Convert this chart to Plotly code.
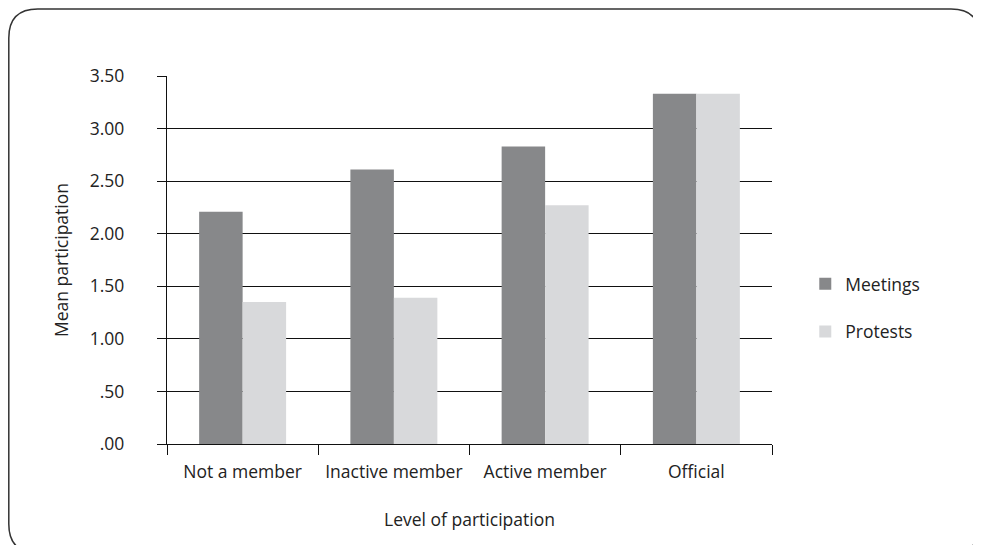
import plotly.graph_objects as go

categories = ["Not a member", "Inactive member", "Active member", "Official"]
meetings = [2.21, 2.61, 2.83, 3.33]
protests = [1.35, 1.39, 2.27, 3.33]
y_tickvals = [0, 0.5, 1.0, 1.5, 2.0, 2.5, 3.0, 3.5]
y_ticktext = [".00", ".50", "1.00", "1.50", "2.00", "2.50", "3.00", "3.50"]

# page body has an 8px margin; size the figure so the page fits the window
W, H = 973, 537
L, R, T, B = 159, 209, 68, 101
pw, ph = W - L - R, H - T - B

FONT = "Open Sans"
FS = 17.5
TXT = "#222222"

fig = go.Figure()
fig.add_trace(go.Bar(name="Meetings", x=categories, y=meetings, legendgroup="m",
                     marker=dict(color="#87888a", line=dict(width=0))))
fig.add_trace(go.Bar(name="Protests", x=categories, y=protests, legendgroup="p",
                     marker=dict(color="#d8d9db", line=dict(width=0))))

def px2paper(x, y):
    return (x - L) / pw, 1 - (y - T) / ph

x0, y1 = px2paper(0.8, 1)
x1, y0 = px2paper(972, 545)
rx, ry = 29 / pw, 29 / ph
path = (f"M {x0+rx},{y1} L {x1-rx},{y1} Q {x1},{y1} {x1},{y1-ry} "
        f"L {x1},{y0+ry} Q {x1},{y0} {x1-rx},{y0} L {x0+rx},{y0} "
        f"Q {x0},{y0} {x0},{y0+ry} L {x0},{y1-ry} Q {x0},{y1} {x0+rx},{y1} Z")

fig.update_layout(
    width=W, height=H,
    margin=dict(l=L, r=R, t=T, b=B, pad=0, autoexpand=False),
    paper_bgcolor="white", plot_bgcolor="white",
    barmode="group", bargap=0.425, bargroupgap=0,
    font=dict(family=FONT, size=FS, color=TXT),
    showlegend=True,
    legend=dict(x=1.055, y=0.37, xanchor="left", yanchor="middle",
                font=dict(family=FONT, size=FS, color=TXT),
                tracegroupgap=22, traceorder="grouped",
                bgcolor="rgba(0,0,0,0)"),
    xaxis=dict(
        automargin=False, tickangle=0,
        showline=True, linecolor="#111111", linewidth=1.3,
        ticks="outside", ticklen=10, tickcolor="#111111", tickwidth=1.3,
        tickson="boundaries", showgrid=False,
        ticklabelstandoff=12,
        tickfont=dict(family=FONT, size=FS, color=TXT),
        title=dict(text="Level of participation", standoff=31,
                   font=dict(family=FONT, size=FS, color=TXT)),
    ),
    yaxis=dict(
        automargin=False,
        range=[0, 3.5], tickvals=y_tickvals, ticktext=y_ticktext,
        showline=True, linecolor="#111111", linewidth=1.3,
        ticks="outside", ticklen=9, tickcolor="#111111", tickwidth=1.3,
        showgrid=True, gridcolor="#111111", gridwidth=1.3,
        zeroline=False,
        ticklabelstandoff=29,
        tickfont=dict(family=FONT, size=FS, color=TXT),
        title=dict(text="Mean participation", standoff=16,
                   font=dict(family=FONT, size=FS, color=TXT)),
    ),
    shapes=[dict(type="path", xref="paper", yref="paper", path=path,
                 line=dict(color="#333333", width=1.5), layer="below")],
)

fig.write_html("out.html")
